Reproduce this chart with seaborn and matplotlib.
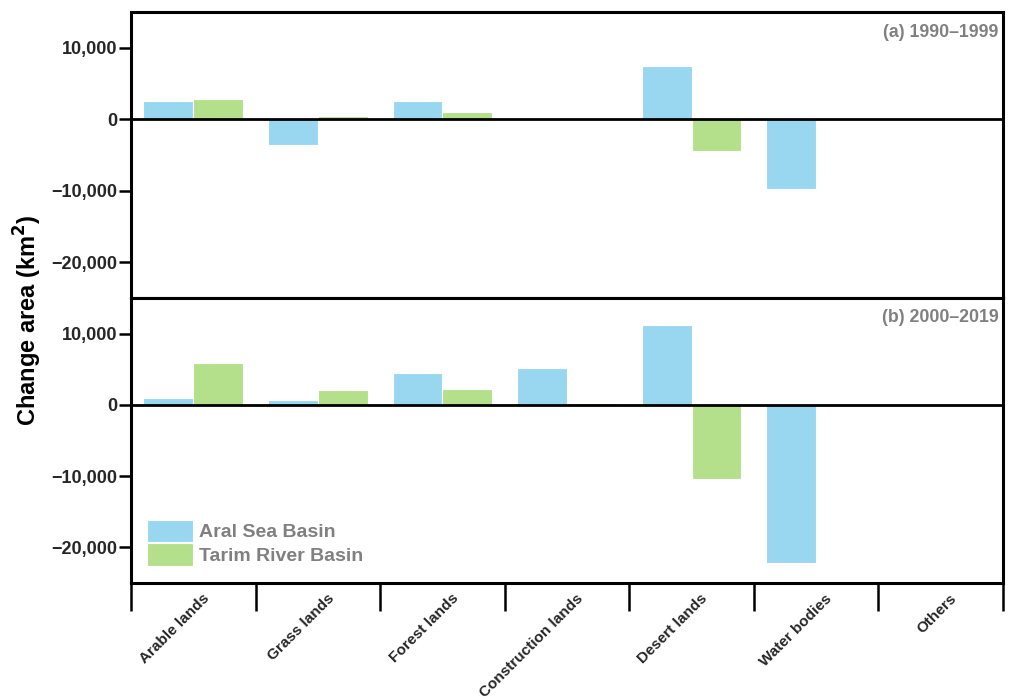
import matplotlib
matplotlib.use("Agg")
import matplotlib.pyplot as plt
import matplotlib.ticker as mticker
import matplotlib.transforms as mtransforms
import seaborn as sns
import pandas as pd

# Land-use categories and change in area (km²) per basin and period
categories = ["Arable lands", "Grass lands", "Forest lands", "Construction lands",
              "Desert lands", "Water bodies", "Others"]
basins = ["Aral Sea Basin", "Tarim River Basin"]

aral_1990s = [2500, -3550, 2500, 200, 7400, -9700, 0]
tarim_1990s = [2900, 400, 950, 0, -4450, -100, 0]

aral_2000s = [900, 650, 4450, 5150, 11250, -22200, 0]
tarim_2000s = [5900, 2150, 2250, 200, -10350, 0, 0]

period_labels = ["(a) 1990\u20131999", "(b) 2000\u20132019"]
y_ticks = [10000, 0, -10000, -20000]

colors = {"Aral Sea Basin": "#99d7f1", "Tarim River Basin": "#b4e08c"}
grey = "#808080"

sns.set_theme(style="white")
plt.rcParams["font.family"] = ["Liberation Sans", "DejaVu Sans"]
plt.rcParams["font.weight"] = "bold"


def long_table(aral, tarim):
    rows = []
    for cat, a, t in zip(categories, aral, tarim):
        rows.append({"category": cat, "basin": basins[0], "value": a})
        rows.append({"category": cat, "basin": basins[1], "value": t})
    return pd.DataFrame(rows)


fig = plt.figure(figsize=(10.09, 6.99), dpi=100)
left, right = 131 / 1009, 1003 / 1009
ax_top = fig.add_axes([left, 1 - 298 / 699, right - left, (298 - 12) / 699])
ax_bot = fig.add_axes([left, 1 - 583 / 699, right - left, (583 - 298) / 699])

panels = [(ax_top, aral_1990s, tarim_1990s, period_labels[0]),
          (ax_bot, aral_2000s, tarim_2000s, period_labels[1])]

for i, (ax, aral, tarim, label) in enumerate(panels):
    df = long_table(aral, tarim)
    sns.barplot(data=df, x="category", y="value", hue="basin", order=categories,
                hue_order=basins, palette=colors, width=0.8, ax=ax,
                edgecolor="white", linewidth=0.8, legend=(i == 1), saturation=1)
    ax.axhline(0, color="black", lw=2, zorder=3)
    ax.set_xlim(-0.5, len(categories) - 0.5)
    ax.set_ylim(-25000, 15000)
    ax.set_yticks(y_ticks)
    ax.yaxis.set_major_formatter(mticker.FuncFormatter(
        lambda v, p: f"{int(v):,}".replace("-", "\u2212")))
    ax.tick_params(axis="y", which="major", direction="out", length=9, width=1.8,
                   color="black", labelsize=13, pad=1, left=True)
    for lbl in ax.get_yticklabels():
        lbl.set_fontweight("bold")
    ax.set_xlabel("")
    ax.set_ylabel("")
    for sp in ax.spines.values():
        sp.set_color("black")
        sp.set_linewidth(2.2)
    ax.text(0.995, 0.93, label, transform=ax.transAxes, ha="right", va="center",
            fontsize=12.8, fontweight="bold", color=grey)

ax_top.set_xticks(range(len(categories)))
ax_top.tick_params(axis="x", which="both", length=0, labelbottom=False)

ax_bot.set_xticks(range(len(categories)))
ax_bot.set_xticklabels(categories, rotation=45, ha="right", rotation_mode="anchor",
                       fontsize=11, fontweight="bold")
ax_bot.xaxis.set_minor_locator(mticker.FixedLocator(
    [k - 0.5 for k in range(len(categories) + 1)]))
ax_bot.tick_params(axis="x", which="major", length=0, pad=6)
ax_bot.tick_params(axis="x", which="minor", direction="out", length=20, width=1.8,
                   color="black", bottom=True)
# nudge the slanted category labels a little to the right of each centre
shift = mtransforms.ScaledTranslation(9 / 100, 0, fig.dpi_scale_trans)
for lbl in ax_bot.get_xticklabels():
    lbl.set_transform(lbl.get_transform() + shift)

leg = ax_bot.legend(loc="lower left", bbox_to_anchor=(-0.002, 0.0), frameon=False,
                    handlelength=2.37, handleheight=1.4, handletextpad=0.3,
                    labelspacing=0.05, fontsize=14)
for t in leg.get_texts():
    t.set_color(grey)
    t.set_fontweight("bold")

fig.text(28 / 1009, 1 - 320 / 699, "Change area (km$^{\\mathbf{2}}$)", rotation=90,
         ha="center", va="center", fontsize=17, fontweight="bold", color="black")

fig.savefig("out.png", dpi=100, facecolor="white")
